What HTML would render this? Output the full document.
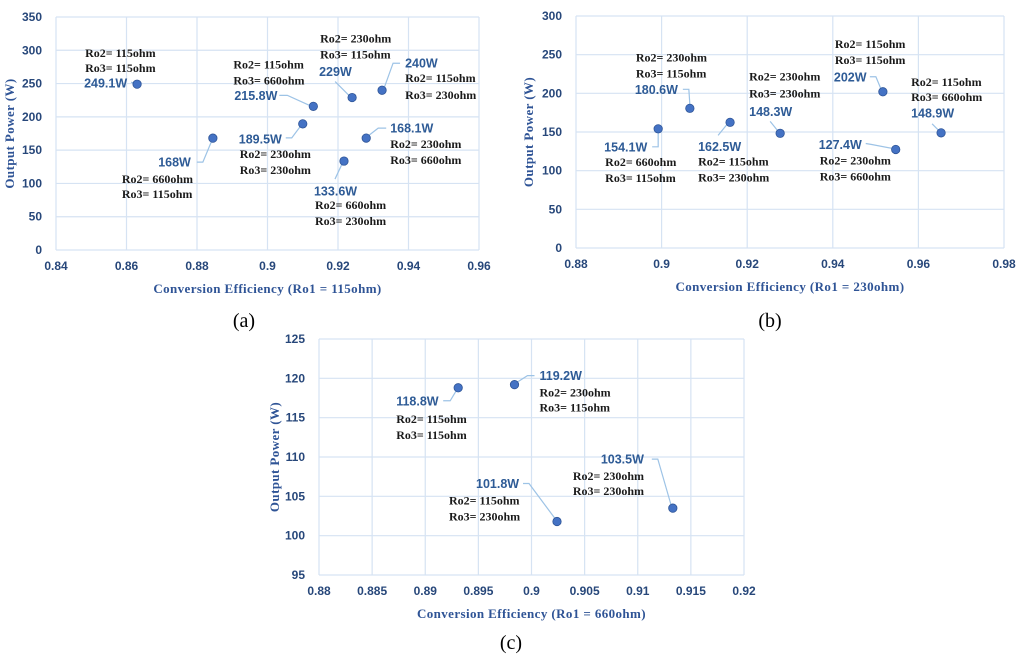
<!DOCTYPE html>
<html><head><meta charset="utf-8"><style>
html,body{margin:0;padding:0;background:#fff;width:1024px;height:660px;overflow:hidden}
svg{display:block}
.tick{font:bold 12px "Liberation Sans",sans-serif;fill:#27477a}
.ttl{font:bold 13px "Liberation Serif",serif;fill:#2f5496;letter-spacing:0.4px}
.val{font:bold 12.5px "Liberation Sans",sans-serif;fill:#2e5b96}
.ro{font:bold 12px "Liberation Serif",serif;fill:#1a1a1a}
.cap{font:20px "Liberation Serif",serif;fill:#000}
</style></head><body>
<svg id="fig" width="1024" height="660" viewBox="0 0 1024 660"></svg>
<script>
// ---- Chart (a): Ro1 = 115ohm ----
const aEff = [0.863, 0.8845, 0.913, 0.910, 0.924, 0.9325, 0.928, 0.9217];
const aPow = [249.1, 168, 215.8, 189.5, 229, 240, 168.1, 133.6];
const aRo2 = ['115', '660', '115', '230', '230', '115', '230', '660'];
const aRo3 = ['115', '115', '660', '230', '115', '230', '660', '230'];
const aXTicks = ['0.84','0.86','0.88','0.9','0.92','0.94','0.96'];
const aYTicks = ['0','50','100','150','200','250','300','350'];
// ---- Chart (b): Ro1 = 230ohm ----
const bEff = [0.8992, 0.9066, 0.916, 0.9277, 0.9517, 0.9547, 0.9653];
const bPow = [154.1, 180.6, 162.5, 148.3, 202, 127.4, 148.9];
const bRo2 = ['660', '230', '115', '230', '115', '230', '115'];
const bRo3 = ['115', '115', '230', '230', '115', '660', '660'];
const bXTicks = ['0.88','0.9','0.92','0.94','0.96','0.98'];
const bYTicks = ['0','50','100','150','200','250','300'];
// ---- Chart (c): Ro1 = 660ohm ----
const cEff = [0.8931, 0.8984, 0.9024, 0.9133];
const cPow = [118.8, 119.2, 101.8, 103.5];
const cRo2 = ['115', '230', '115', '230'];
const cRo3 = ['115', '115', '230', '230'];
const cXTicks = ['0.88','0.885','0.89','0.895','0.9','0.905','0.91','0.915','0.92'];
const cYTicks = ['95','100','105','110','115','120','125'];

// label layout offsets (pixels relative to marker) - layout only
const aLay = [
 {v:[-53,-1],a:'start',r:[[-52,-31],[-52,-16]],l:[[-6,-2],[-3,-1]]},
 {v:[-22,24],a:'end',r:[[-91,41],[-91,56]],l:[[-16,24],[-10,24],[0,0]]},
 {v:[-79,-11],a:'start',r:[[-80,-42],[-80,-26]],l:[[-34,-11],[-26,-11],[-4,-1]]},
 {v:[-64,15],a:'start',r:[[-63,30],[-63,46]],l:[[-17,14],[-11,14],[-2,2]]},
 {v:[-33,-26],a:'start',r:[[-32,-59],[-32,-43]],l:[[-17,-16],[-3,-2]]},
 {v:[23,-27],a:'start',r:[[23,-12],[23,5]],l:[[18,-27],[11,-27],[2,-2]]},
 {v:[24,-10],a:'start',r:[[24,6],[24,22]],l:[[20,-10],[12,-10],[3,-3]]},
 {v:[-30,30],a:'start',r:[[-29,44],[-29,60]],l:[[-9,18],[-2,3]]}
];
const bLay = [
 {v:[-54,18],a:'start',r:[[-53,33],[-53,49]],l:[[-6,18],[0,18],[0,3]]},
 {v:[-55,-19],a:'start',r:[[-54,-51],[-54,-35]],l:[[-7,-19],[-1,-19],[0,-4]]},
 {v:[-32,24],a:'start',r:[[-32,39],[-32,55]],l:[[-12,13],[-3,2]]},
 {v:[-31,-22],a:'start',r:[[-31,-57],[-31,-40]],l:[[-10,-12],[-2,-2]]},
 {v:[-49,-15],a:'start',r:[[-48,-48],[-48,-32]],l:[[-13,-15],[-7,-15],[-2,-3]]},
 {v:[-77,-5],a:'start',r:[[-76,11],[-76,27]],l:[[-30,-6],[-24,-5],[-3,-1]]},
 {v:[-30,-20],a:'start',r:[[-30,-51],[-30,-36]],l:[[-9,-9],[-2,-2]]}
];
const cLay = [
 {v:[-62,13],a:'start',r:[[-62,31],[-62,47]],l:[[-15,13],[-8,13],[-2,3]]},
 {v:[25,-9],a:'start',r:[[25,8],[25,23]],l:[[20,-9],[13,-9],[2,-2]]},
 {v:[-81,-38],a:'start',r:[[-108,-21],[-108,-5]],l:[[-34,-38],[-28,-38],[-2,-3]]},
 {v:[-72,-49],a:'start',r:[[-100,-32],[-100,-17]],l:[[-21,-49],[-15,-49],[-2,-4]]}
];

const NS='http://www.w3.org/2000/svg';
const svg=document.getElementById('fig');
function mk(tag,attrs,parent,txt){const e=document.createElementNS(NS,tag);for(const k in attrs)e.setAttribute(k,attrs[k]);if(txt!==undefined)e.textContent=txt;(parent||svg).appendChild(e);return e;}

function chart(id,box,xt,yt,eff,pow,ro2,ro3,lay,title,ytx,cap){
  const g=mk('g',{});
  
  
  const x0=+xt[0],x1=+xt[xt.length-1],y0=+yt[0],y1=+yt[yt.length-1];
  const X=v=>box.l+(v-x0)/(x1-x0)*(box.r-box.l);
  const Y=v=>box.b-(v-y0)/(y1-y0)*(box.b-box.t);
  xt.forEach(t=>{const x=X(+t);
    const gl=mk('line',{x1:x,x2:x,y1:box.t,y2:box.b,stroke:'#d6e3f3','stroke-width':1.2},g);
    
    const tl=mk('text',{x:x,y:box.b+20,'text-anchor':'middle',class:'tick'},g,t);
    });
  yt.forEach(t=>{const y=Y(+t);
    const gl=mk('line',{x1:box.l,x2:box.r,y1:y,y2:y,stroke:'#d6e3f3','stroke-width':1.2},g);
    
    const tl=mk('text',{x:box.l-14,y:y+4,'text-anchor':'end',class:'tick'},g,t);
    });
  const xa=mk('text',{x:(box.l+box.r)/2,y:box.b+43,'text-anchor':'middle',class:'ttl'},g,title);
  
  const yc=(box.t+box.b)/2;
  const ya=mk('text',{x:ytx,y:yc,'text-anchor':'middle',class:'ttl',transform:`rotate(-90 ${ytx} ${yc})`},g,'Output Power (W)');
  
  eff.forEach((e,i)=>{
    const px=X(e),py=Y(pow[i]),L=lay[i];
    const ld=mk('polyline',{points:L.l.map(p=>(px+p[0])+','+(py+p[1])).join(' '),fill:'none',stroke:'#9dc3e6','stroke-width':1.2},g);
    
    const c=mk('circle',{cx:px,cy:py,r:4.2,fill:'#4472c4',stroke:'#2f5597','stroke-width':0.8},g);
    
    const vt=mk('text',{x:px+L.v[0],y:py+L.v[1]+4.5,'text-anchor':L.a,class:'val'},g,pow[i]+'W');
    
    const r2=mk('text',{x:px+L.r[0][0],y:py+L.r[0][1]+4,class:'ro'},g,'Ro2= '+ro2[i]+'ohm');
    
    const r3=mk('text',{x:px+L.r[1][0],y:py+L.r[1][1]+4,class:'ro'},g,'Ro3= '+ro3[i]+'ohm');
    
  });
  const cp=mk('text',{x:cap[0],y:cap[1],'text-anchor':'middle',class:'cap'},g,cap[2]);
  
}
chart('a',{l:56,r:479,t:17,b:250},aXTicks,aYTicks,aEff,aPow,aRo2,aRo3,aLay,'Conversion Efficiency (Ro1 = 115ohm)',14,[244,327,'(a)']);
chart('b',{l:576,r:1004,t:16,b:248},bXTicks,bYTicks,bEff,bPow,bRo2,bRo3,bLay,'Conversion Efficiency (Ro1 = 230ohm)',533,[770,327,'(b)']);
chart('c',{l:319,r:744,t:339,b:575},cXTicks,cYTicks,cEff,cPow,cRo2,cRo3,cLay,'Conversion Efficiency (Ro1 = 660ohm)',279,[511,649,'(c)']);
</script>
</body></html>
